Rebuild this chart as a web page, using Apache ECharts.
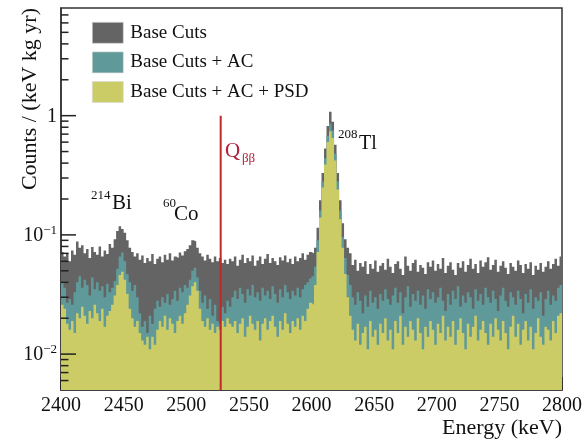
<!DOCTYPE html>
<html>
<head>
<meta charset="utf-8">
<script src="https://cdn.jsdelivr.net/npm/echarts@6/dist/echarts.min.js"></script>
<style>
html,body{margin:0;padding:0;background:#fff;}
#chart{width:585px;height:441px;}
</style>
</head>
<body>
<div id="chart"></div>
<script>
// ---- data (2 keV bins from 2400 to 2800 keV) ----
const binStart = 2400;
const binWidth = 2;
const baseCuts = [
0.072,0.066,0.070,0.060,0.074,0.068,0.088,0.078,0.082,0.070,
0.076,0.064,0.079,0.072,0.068,0.080,0.066,0.074,0.069,0.084,
0.078,0.092,0.108,0.118,0.112,0.104,0.090,0.078,0.072,0.066,
0.070,0.062,0.067,0.058,0.064,0.060,0.069,0.057,0.063,0.066,
0.059,0.068,0.062,0.070,0.061,0.066,0.064,0.071,0.067,0.073,
0.076,0.082,0.090,0.088,0.078,0.070,0.066,0.061,0.068,0.063,
0.059,0.066,0.060,0.064,0.058,0.062,0.057,0.063,0.060,0.066,
0.055,0.062,0.068,0.058,0.064,0.060,0.067,0.055,0.061,0.066,
0.057,0.063,0.069,0.058,0.064,0.060,0.056,0.065,0.061,0.067,
0.059,0.063,0.057,0.066,0.060,0.064,0.070,0.062,0.068,0.072,
0.070,0.078,0.115,0.195,0.330,0.530,0.820,1.080,0.890,0.570,
0.330,0.195,0.125,0.092,0.078,0.070,0.056,0.062,0.050,0.058,
0.054,0.060,0.047,0.057,0.052,0.061,0.049,0.055,0.058,0.051,
0.063,0.054,0.048,0.057,0.060,0.052,0.046,0.066,0.055,0.050,
0.058,0.062,0.049,0.056,0.053,0.047,0.059,0.054,0.061,0.050,
0.057,0.052,0.064,0.048,0.055,0.059,0.051,0.046,0.058,0.053,
0.060,0.049,0.056,0.063,0.052,0.057,0.048,0.061,0.054,0.059,
0.065,0.051,0.056,0.062,0.049,0.055,0.060,0.053,0.047,0.058,
0.054,0.050,0.061,0.056,0.048,0.057,0.052,0.059,0.046,0.055,
0.051,0.058,0.049,0.054,0.060,0.052,0.057,0.063,0.055,0.066
];
const baseCutsAC = [
0.040,0.036,0.027,0.029,0.026,0.033,0.040,0.045,0.036,0.042,
0.038,0.031,0.044,0.035,0.040,0.034,0.037,0.030,0.039,0.033,
0.036,0.041,0.052,0.066,0.071,0.060,0.047,0.040,0.034,0.038,
0.030,0.022,0.017,0.019,0.015,0.021,0.018,0.024,0.028,0.025,
0.030,0.027,0.032,0.026,0.029,0.034,0.028,0.036,0.033,0.038,
0.036,0.042,0.050,0.053,0.044,0.034,0.027,0.031,0.024,0.029,
0.021,0.026,0.019,0.018,0.025,0.022,0.028,0.025,0.030,0.034,
0.029,0.036,0.032,0.027,0.035,0.031,0.038,0.030,0.033,0.028,
0.036,0.031,0.034,0.029,0.037,0.032,0.027,0.035,0.030,0.038,
0.033,0.029,0.034,0.031,0.036,0.030,0.035,0.038,0.040,0.043,
0.045,0.054,0.090,0.160,0.280,0.440,0.680,0.860,0.750,0.480,
0.280,0.160,0.096,0.064,0.046,0.038,0.030,0.026,0.033,0.028,
0.022,0.031,0.025,0.034,0.027,0.030,0.024,0.032,0.028,0.035,
0.029,0.026,0.031,0.036,0.027,0.033,0.022,0.030,0.037,0.025,
0.032,0.028,0.034,0.026,0.031,0.024,0.035,0.029,0.033,0.027,
0.030,0.036,0.028,0.023,0.032,0.026,0.034,0.029,0.037,0.025,
0.031,0.027,0.033,0.030,0.024,0.035,0.028,0.032,0.026,0.036,
0.030,0.027,0.034,0.029,0.023,0.031,0.036,0.028,0.025,0.033,
0.030,0.026,0.034,0.029,0.022,0.032,0.027,0.035,0.024,0.030,
0.028,0.033,0.021,0.029,0.034,0.026,0.031,0.028,0.036,0.038
];
const baseCutsACPSD = [
0.026,0.024,0.018,0.016,0.019,0.015,0.022,0.020,0.025,0.021,
0.018,0.023,0.020,0.026,0.022,0.019,0.024,0.017,0.021,0.023,
0.026,0.031,0.038,0.046,0.049,0.042,0.032,0.024,0.020,0.017,
0.019,0.015,0.013,0.012,0.014,0.011,0.014,0.012,0.016,0.019,
0.017,0.021,0.016,0.020,0.018,0.015,0.019,0.021,0.018,0.022,
0.026,0.031,0.037,0.040,0.034,0.024,0.019,0.017,0.020,0.016,
0.018,0.015,0.017,0.016,0.019,0.017,0.020,0.018,0.017,0.019,
0.015,0.018,0.020,0.014,0.017,0.021,0.018,0.016,0.019,0.013,
0.018,0.020,0.016,0.019,0.021,0.017,0.014,0.019,0.016,0.022,
0.018,0.015,0.019,0.017,0.020,0.016,0.021,0.019,0.024,0.027,
0.026,0.038,0.072,0.140,0.250,0.390,0.600,0.740,0.650,0.420,
0.240,0.135,0.078,0.047,0.030,0.021,0.016,0.013,0.018,0.012,
0.015,0.017,0.011,0.019,0.014,0.016,0.012,0.018,0.015,0.020,
0.013,0.016,0.011,0.019,0.015,0.021,0.012,0.017,0.014,0.019,
0.016,0.013,0.020,0.015,0.011,0.017,0.014,0.019,0.016,0.012,
0.018,0.015,0.021,0.013,0.017,0.014,0.019,0.012,0.016,0.020,
0.015,0.011,0.018,0.014,0.017,0.021,0.013,0.016,0.019,0.015,
0.012,0.018,0.014,0.020,0.016,0.013,0.019,0.015,0.011,0.017,
0.021,0.014,0.018,0.012,0.016,0.019,0.013,0.017,0.011,0.015,
0.020,0.014,0.012,0.017,0.016,0.013,0.019,0.015,0.021,0.022
];
const seriesNames = ['Base Cuts', 'Base Cuts + AC', 'Base Cuts + AC + PSD'];
const qbbEnergy = 2527.5;
const qbbLineRange = [0.005, 1.0];
const xTicks = [2400, 2450, 2500, 2550, 2600, 2650, 2700, 2750, 2800];
const yMajorTicks = [0.01, 0.1, 1];
const yMinorTicks = [0.006,0.007,0.008,0.009,
  0.02,0.03,0.04,0.05,0.06,0.07,0.08,0.09,
  0.2,0.3,0.4,0.5,0.6,0.7,0.8,0.9,
  2,3,4,5,6,7];

// ---- build ----
const FONT = 'Liberation Serif';
const colors = ['#646464', '#5f9999', '#cccc66'];
function histData(vals) {
  const d = vals.map((v, i) => [binStart + binWidth * i, v]);
  d.push([binStart + binWidth * vals.length, vals[vals.length - 1]]);
  return d;
}
const allVals = [baseCuts, baseCutsAC, baseCutsACPSD];
const histSeries = allVals.map((vals, k) => ({
  type: 'line',
  name: seriesNames[k],
  data: histData(vals),
  step: 'end',
  symbol: 'none',
  showSymbol: false,
  lineStyle: { width: 0, color: colors[k] },
  itemStyle: { color: colors[k] },
  areaStyle: { color: colors[k], opacity: 1, origin: 'start' },
  silent: true,
  z: 2 + k
}));

const tickSeries = {
  type: 'custom',
  silent: true,
  clip: false,
  z: 10,
  data: yMajorTicks.map(v => [xTicks[0], v, 1]).concat(yMinorTicks.map(v => [xTicks[0], v, 0])),
  encode: { x: 0, y: 1 },
  renderItem: function (params, api) {
    const p = api.coord([api.value(0), api.value(1)]);
    const len = api.value(2) === 1 ? 15 : 7.5;
    return {
      type: 'line',
      shape: { x1: p[0], y1: p[1], x2: p[0] + len, y2: p[1] },
      style: { stroke: '#222', lineWidth: 1.5 }
    };
  }
};

const qSeries = {
  type: 'line',
  name: 'Qbb',
  data: [[qbbEnergy, qbbLineRange[0]], [qbbEnergy, qbbLineRange[1]]],
  symbol: 'none',
  lineStyle: { color: '#c0282a', width: 2 },
  silent: true,
  z: 8
};

function supText(x, y, txt, size, color) {
  return { type: 'text', x: x, y: y, style: { text: txt, fontFamily: FONT, fontSize: size, fill: color, verticalAlign: 'middle', align: 'left' }, z: 20 };
}

const chart = echarts.init(document.getElementById('chart'), null, { renderer: 'canvas' });
chart.setOption({
  animation: false,
  backgroundColor: '#fff',
  grid: { left: 61, right: 23, top: 8, bottom: 51, show: true, borderColor: '#333', borderWidth: 1.5, containLabel: false },
  legend: {
    orient: 'vertical', left: 92, top: 22, padding: 0, itemWidth: 31, itemHeight: 21, itemGap: 8,
    selectedMode: false, icon: 'rect',
    textStyle: { fontFamily: FONT, fontSize: 19, color: '#111', padding: [0, 0, 0, 2] },
    data: seriesNames.map((n, k) => ({ name: n, itemStyle: { color: colors[k], borderColor: '#d8d8d8', borderWidth: 0.6 } }))
  },
  xAxis: {
    type: 'value', min: xTicks[0], max: xTicks[xTicks.length - 1], interval: 50,
    axisLine: { show: true, lineStyle: { color: '#333', width: 1.5 } },
    axisTick: { show: true, inside: true, length: 13, lineStyle: { color: '#222', width: 1.5 } },
    minorTick: { show: true, splitNumber: 5, length: 6.5, lineStyle: { color: '#222', width: 1.5 } },
    axisLabel: { fontFamily: FONT, fontSize: 20, color: '#111', margin: 6, formatter: function (v) { return String(v); } },
    splitLine: { show: false }
  },
  yAxis: {
    type: 'log', logBase: 10, min: 0.005, max: 8,
    axisLine: { show: true, lineStyle: { color: '#333', width: 1.5 } },
    axisTick: { show: false },
    splitLine: { show: false },
    axisLabel: {
      margin: 4,
      formatter: function (v) {
        const l = Math.log10(v);
        const r = Math.round(l);
        if (Math.abs(l - r) > 1e-6) return '';
        if (r === 0) return '{b|1}';
        return '{b|10}{s|\u2212' + Math.abs(r) + '}';
      },
      rich: {
        b: { fontFamily: FONT, fontSize: 20, color: '#111', verticalAlign: 'bottom', lineHeight: 22 },
        s: { fontFamily: FONT, fontSize: 13, color: '#111', verticalAlign: 'top', lineHeight: 13 }
      }
    }
  },
  series: histSeries.concat([qSeries, tickSeries]),
  graphic: [
    { type: 'text', x: 30, y: 8, rotation: Math.PI / 2, style: { text: 'Counts / (keV kg yr)', fontFamily: FONT, fontSize: 22, fill: '#111', align: 'right', verticalAlign: 'middle' } },
    { type: 'text', x: 562, y: 428, style: { text: 'Energy (keV)', fontFamily: FONT, fontSize: 22, fill: '#111', align: 'right', verticalAlign: 'middle' } },
    supText(91, 196, '214', 13, '#111'),
    supText(112, 203, 'Bi', 21, '#111'),
    supText(163, 204, '60', 13, '#111'),
    supText(174, 214.5, 'Co', 21, '#111'),
    supText(338, 135, '208', 13, '#111'),
    supText(359, 144, 'Tl', 20, '#111'),
    supText(225, 151, 'Q', 21, '#b0203a'),
    supText(242, 159, '\u03b2\u03b2', 13, '#b0203a')
  ]
});
</script>
</body>
</html>
